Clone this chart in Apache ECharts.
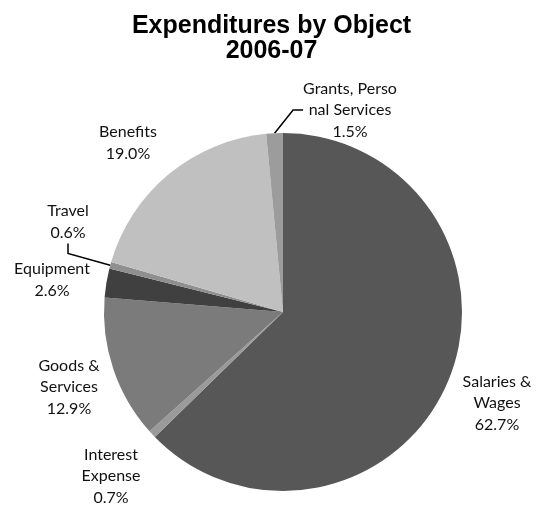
<!DOCTYPE html>
<html>
<head>
<meta charset="utf-8">
<script src="https://cdn.jsdelivr.net/npm/echarts@6/dist/echarts.min.js"></script>
<style>
  html, body { margin: 0; padding: 0; background: #fff; }
  #chart { width: 543px; height: 508px; }
</style>
</head>
<body>
<div id="chart"></div>
<script>
// Expenditure categories, in clockwise order from 12 o'clock
const categories = [
  'Salaries &\nWages',
  'Interest\nExpense',
  'Goods &\nServices',
  'Equipment',
  'Travel',
  'Benefits',
  'Grants, Perso\nnal Services'
];
// Share of total expenditures, percent
const shares = [62.7, 0.7, 12.9, 2.6, 0.6, 19.0, 1.5];
// Grey shade of each slice
const sliceColors = ['#575757', '#9a9a9a', '#7b7b7b', '#404040', '#8f8f8f', '#c0c0c0', '#9c9c9c'];
// Slices whose label is joined to the slice by a leader line
const withLeader = [false, false, false, false, true, false, true];
// Label anchor (centre of text block) for each slice
const labelAnchors = [
  [497, 403], [111, 476], [69, 387], [52, 280], [68, 222], [128, 143], [350, 110]
];

const chart = echarts.init(document.getElementById('chart'), null, { renderer: 'canvas' });

chart.setOption({
  animation: false,
  backgroundColor: '#ffffff',
  title: {
    text: 'Expenditures by Object\n2006-07',
    left: 'center',
    top: 9,
    textStyle: {
      fontFamily: 'Liberation Sans, Arial, sans-serif',
      fontWeight: 'bold',
      fontSize: 25,
      lineHeight: 25,
      color: '#000'
    }
  },
  series: [{
    type: 'pie',
    center: [283, 312],
    radius: [0, 179],
    startAngle: 90,
    clockwise: true,
    avoidLabelOverlap: false,
    itemStyle: { borderWidth: 0 },
    emphasis: { disabled: true },
    label: {
      show: true,
      position: 'outside',
      formatter: p => p.name + '\n' + p.value.toFixed(1) + '%',
      fontFamily: 'Lato, Carlito, sans-serif',
      fontSize: 16,
      lineHeight: 21.5,
      color: '#111',
      align: 'center'
    },
    labelLine: {
      show: true,
      length: 10,
      length2: 10,
      lineStyle: { color: '#000', width: 1.5 }
    },
    labelLayout: p => ({
      x: labelAnchors[p.dataIndex][0],
      y: labelAnchors[p.dataIndex][1],
      align: 'center',
      verticalAlign: 'middle'
    }),
    data: categories.map((name, i) => ({
      name: name,
      value: shares[i],
      itemStyle: { color: sliceColors[i] },
      labelLine: { show: withLeader[i] }
    }))
  }]
});
</script>
</body>
</html>
